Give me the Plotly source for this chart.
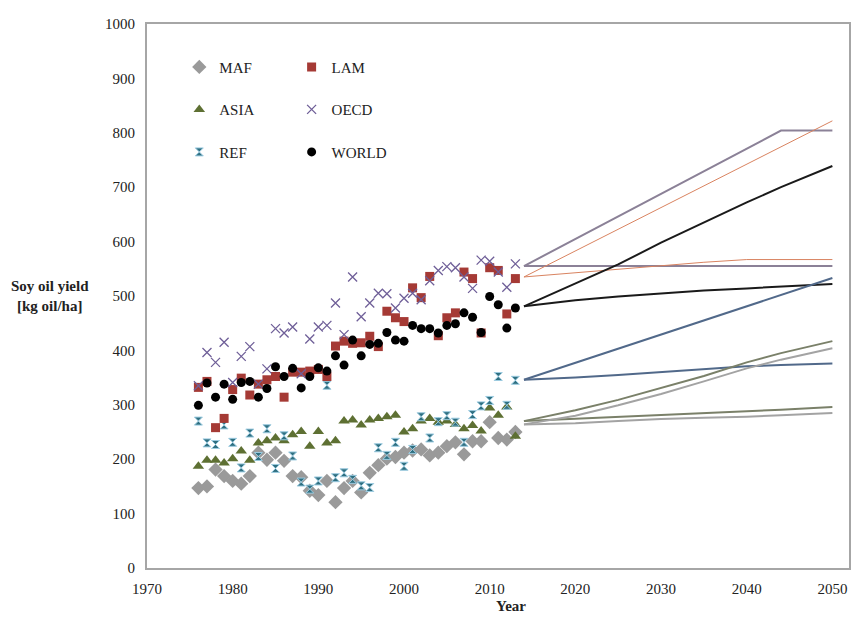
import plotly.graph_objects as go

# historical observations 1976-2013
years = list(range(1976, 2014))

maf = [147, 150, 181, 169, 160, 155, 169, 212, 199, 212, 197, 169, 167, 142, 134, 160, 121, 147, 160, 139,
       175, 189, 201, 204, 212, 216, 218, 207, 212, 224, 231, 209, 233, 233, 268, 239, 236, 250]
lam = [332, 343, 258, 275, 328, 349, 318, 338, 346, 352, 314, 360, 360, 362, 365, 352, 408, 417, 413, 414,
       426, 407, 472, 460, 453, 515, 497, 536, 427, 460, 469, 544, 532, 432, 552, 547, 467, 532]
asia = [187, 198, 198, 193, 201, 215, 198, 230, 234, 239, 234, 245, 251, 224, 251, 230, 234, 270, 272, 263,
        272, 275, 278, 281, 250, 256, 270, 275, 268, 270, 264, 256, 262, 252, 294, 281, 296, 242]
oecd = [335, 396, 378, 415, 341, 389, 407, 338, 366, 440, 432, 443, 357, 421, 443, 446, 487, 429, 535, 462,
        487, 505, 504, 478, 496, 505, 493, 528, 547, 554, 552, 535, 514, 566, 564, 544, 516, 559]
ref = [270, 230, 227, 263, 231, 184, 248, 205, 256, 183, 243, 206, 158, 145, 160, 336, 166, 175, 163, 151,
       148, 221, 207, 231, 187, 218, 278, 239, 269, 280, 268, 231, 282, 298, 308, 352, 299, 345]
world = [299, 340, 314, 338, 310, 341, 343, 314, 330, 370, 352, 367, 331, 352, 368, 362, 390, 373, 419, 390,
         411, 413, 433, 419, 417, 446, 440, 440, 432, 446, 449, 469, 461, 433, 499, 484, 441, 478]

# projections (high / low scenario)
proj_years = [2014, 2020, 2025, 2030, 2035, 2040, 2044, 2050]
oecd_hi = [555, 605, 646, 688, 730, 771, 804, 804]
oecd_lo = [555, 555, 555, 555, 555, 555, 555, 555]
lam_hi = [535, 583, 623, 663, 703, 743, 775, 822]
lam_lo = [535, 543, 549, 556, 562, 567, 567, 567]
world_hi = [481, 523, 558, 598, 635, 672, 700, 739]
world_lo = [481, 492, 499, 505, 510, 514, 517, 522]
ref_hi = [346, 377, 403, 430, 455, 481, 502, 533]
ref_lo = [346, 350, 355, 360, 366, 371, 373, 376]
asia_hi = [270, 290, 309, 331, 353, 378, 395, 417]
asia_lo = [270, 274, 277, 280, 284, 288, 291, 296]
maf_hi = [264, 280, 299, 320, 343, 367, 383, 404]
maf_lo = [264, 266, 270, 274, 276, 278, 281, 285]

SERIF = "Liberation Serif"

fig = go.Figure()

# projection lines first so markers sit on top
lines = [
    (oecd_hi, "#8b8197", 2), (oecd_lo, "#8b8197", 2),
    (lam_hi, "#d98360", 1), (lam_lo, "#d98360", 1),
    (world_hi, "#1a1a1a", 2), (world_lo, "#1a1a1a", 2),
    (ref_hi, "#51698a", 2), (ref_lo, "#51698a", 2),
    (asia_hi, "#7a8069", 2), (asia_lo, "#7a8069", 2),
    (maf_hi, "#a3a3a3", 2), (maf_lo, "#a3a3a3", 2),
]
for vals, col, w in lines:
    fig.add_trace(go.Scatter(x=proj_years, y=vals, mode="lines", showlegend=False,
                             line=dict(color=col, width=w), hoverinfo="skip"))

series = [
    ("MAF", maf, dict(symbol="diamond", size=11, color="#9a9a9a"), "legend"),
    ("ASIA", asia, dict(symbol="triangle-up", size=10, color="#5e7033"), "legend"),
    ("REF", ref, dict(symbol="hourglass", size=8, color="#2f6f80",
                      line=dict(color="#9ccbe0", width=1)), "legend"),
    ("LAM", lam, dict(symbol="square", size=9, color="#a53a35"), "legend2"),
    ("OECD", oecd, dict(symbol="x-thin", size=9, line=dict(color="#6f5f98", width=1.3)), "legend2"),
    ("WORLD", world, dict(symbol="circle", size=9, color="#000000"), "legend2"),
]
for name, vals, mk, lg in series:
    fig.add_trace(go.Scatter(x=years, y=vals, mode="markers", name=name, marker=mk,
                             legend=lg, legendgroup=name))

legend_style = dict(font=dict(family=SERIF, size=15, color="#222"), bgcolor="rgba(0,0,0,0)",
                    tracegroupgap=20, itemwidth=30, xanchor="left", yanchor="top")

fig.update_layout(
    width=851, height=606,
    margin=dict(l=139, r=8, t=9, b=46),
    plot_bgcolor="white", paper_bgcolor="white",
    font=dict(family=SERIF, size=15, color="#222"),
    legend=dict(x=0.046, y=0.951, **legend_style),
    legend2=dict(x=0.206, y=0.951, **legend_style),
    xaxis=dict(range=[1970, 2051.94], tickvals=list(range(1970, 2051, 10)), showgrid=False,
               zeroline=False, showline=True, linecolor="#a6a6a6", linewidth=2, mirror=True,
               ticks="outside", ticklen=6, tickcolor="rgba(0,0,0,0)"),
    yaxis=dict(range=[0, 1000], dtick=100, showgrid=False, zeroline=False, showline=True,
               linecolor="#a6a6a6", linewidth=2, mirror=True,
               ticks="outside", ticklen=7, tickcolor="rgba(0,0,0,0)"),
    annotations=[
        dict(text="<b>Soy oil yield<br>[kg oil/ha]</b>", xref="paper", yref="paper",
             x=-0.138, y=0.5, xanchor="center", yanchor="middle", showarrow=False,
             font=dict(family=SERIF, size=15, color="#222")),
        dict(text="<b>Year</b>", xref="paper", yref="paper", x=0.5185, y=-0.089,
             xanchor="center", yanchor="bottom", showarrow=False,
             font=dict(family=SERIF, size=15, color="#222")),
    ],
)

fig.write_html("out.html")
